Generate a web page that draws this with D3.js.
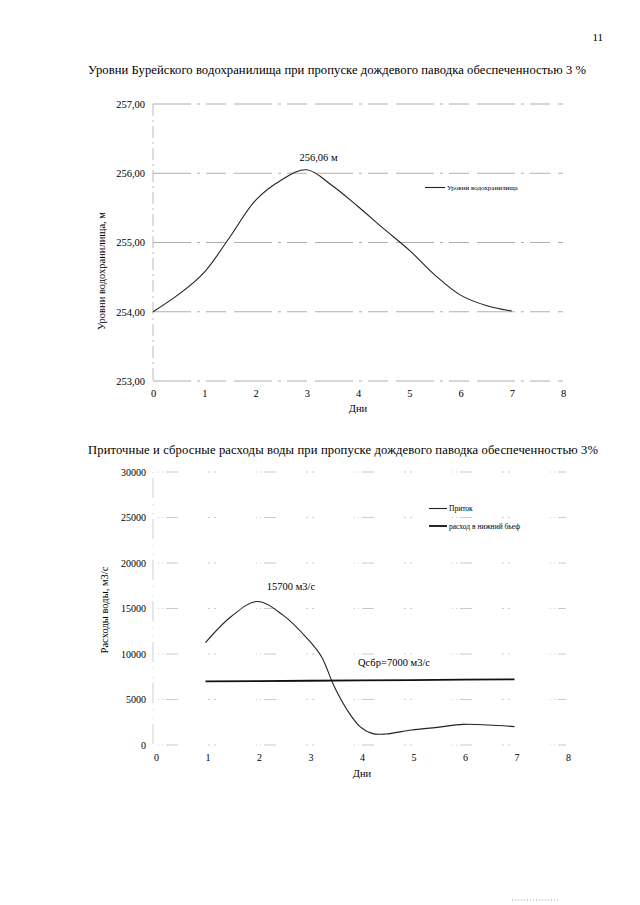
<!DOCTYPE html>
<html>
<head>
<meta charset="utf-8">
<script src="https://cdn.jsdelivr.net/npm/d3@7"></script>
<style>
  body { margin: 0; background: #fff; }
  svg, svg text { font-family: "Liberation Serif", "DejaVu Serif", serif; }
</style>
</head>
<body>
<div id="page"></div>
<script>
const width = 640;
const height = 905;

// Уровни водохранилища (дни, м)
const levelDays = [0, 0.5, 1, 1.5, 2, 2.5, 3, 3.5, 4, 4.5, 5, 5.5, 6, 6.5, 7];
const levelValues = [254.00, 254.25, 254.57, 255.08, 255.61, 255.90, 256.05, 255.82, 255.52, 255.20, 254.89, 254.53, 254.24, 254.09, 254.01];
const levelTicks = [253, 254, 255, 256, 257];

// Приток и сброс (дни, м3/с)
const inflowDays = [1, 1.5, 2, 2.5, 3, 3.25, 3.5, 3.75, 4, 4.25, 4.5, 5, 5.5, 6, 6.5, 7];
const inflowValues = [11260, 14120, 15770, 14300, 11550, 9720, 6420, 3850, 2020, 1250, 1210, 1650, 1940, 2270, 2200, 2020];
const outflowDays = [1, 2, 3, 4, 5, 6, 7];
const outflowValues = [7000, 7030, 7060, 7100, 7140, 7180, 7220];
const flowTicks = [0, 5000, 10000, 15000, 20000, 25000, 30000];
const dayTicks = [0, 1, 2, 3, 4, 5, 6, 7, 8];

const svg = d3.select('#page')
              .append('svg')
              .attr('width', width)
              .attr('height', height);

// номер страницы
svg.append('text')
   .attr('x', 603).attr('y', 41)
   .attr('text-anchor', 'end')
   .attr('font-size', 11)
   .text('11');

svg.append('text')
   .attr('x', 88).attr('y', 74)
   .attr('font-size', 12.6)
   .attr('textLength', 498)
   .text('Уровни Бурейского водохранилища при пропуске дождевого паводка обеспеченностью 3 %');

svg.append('text')
   .attr('x', 88).attr('y', 454)
   .attr('font-size', 12.6)
   .attr('textLength', 510)
   .text('Приточные и сбросные расходы воды при пропуске дождевого паводка обеспеченностью 3%');

function styleAxis(g, size) {
    g.select('.domain').remove();
    g.attr('font-family', null);
    g.selectAll('text')
     .style('font-family', '"Liberation Serif", serif')
     .attr('font-size', size)
     .attr('fill', '#000');
}

// ---------- график 1 ----------
const x1 = d3.scaleLinear().domain([0, 8]).range([153, 563]);
const y1 = d3.scaleLinear().domain([253, 257]).range([381, 104]);

const chart1 = svg.append('g').attr('id', 'levels');

chart1.append('g')
      .selectAll('line')
      .data(levelTicks)
      .join('line')
      .attr('x1', x1(0)).attr('x2', x1(8))
      .attr('y1', (d) => y1(d)).attr('y2', (d) => y1(d))
      .attr('stroke', '#9a9a9a')
      .attr('stroke-width', 0.8)
      .attr('stroke-dasharray', '38,6,3,6,20,8');

chart1.append('line')
      .attr('x1', x1(0)).attr('x2', x1(0))
      .attr('y1', y1(257)).attr('y2', y1(253))
      .attr('stroke', '#aaa')
      .attr('stroke-width', 0.8)
      .attr('stroke-dasharray', '12,4,2,4');

const ejeY1 = d3.axisLeft(y1).tickValues(levelTicks)
                .tickSize(0).tickPadding(8)
                .tickFormat((d) => d3.format('.2f')(d).replace('.', ','));
chart1.append('g')
      .attr('transform', `translate(${x1(0)},0)`)
      .call(ejeY1)
      .call((g) => styleAxis(g, 10.5));

const ejeX1 = d3.axisBottom(x1).tickValues(dayTicks).tickSize(0).tickPadding(9);
chart1.append('g')
      .attr('transform', `translate(0,${y1(253)})`)
      .call(ejeX1)
      .call((g) => styleAxis(g, 10.5));

const line1 = d3.line()
                .curve(d3.curveCatmullRom)
                .x((d, i) => x1(levelDays[i]))
                .y((d) => y1(d));

chart1.append('path')
      .attr('d', line1(levelValues))
      .attr('fill', 'none')
      .attr('stroke', '#222')
      .attr('stroke-width', 1.1);

chart1.append('text')
      .attr('x', x1(3.23)).attr('y', 161)
      .attr('text-anchor', 'middle')
      .attr('font-size', 10.5)
      .text('256,06 м');

chart1.append('line')
      .attr('x1', 425).attr('x2', 445)
      .attr('y1', 187.5).attr('y2', 187.5)
      .attr('stroke', '#222').attr('stroke-width', 1.1);
chart1.append('text')
      .attr('x', 447).attr('y', 190)
      .attr('font-size', 7)
      .text('Уровни водохранилища');

chart1.append('text')
      .attr('transform', `translate(105,${271}) rotate(-90)`)
      .attr('text-anchor', 'middle')
      .attr('font-size', 10.5)
      .text('Уровни водохранилища, м');

chart1.append('text')
      .attr('x', 358).attr('y', 412)
      .attr('text-anchor', 'middle')
      .attr('font-size', 10.5)
      .text('Дни');

// ---------- график 2 ----------
const x2 = d3.scaleLinear().domain([0, 8]).range([154, 566]);
const y2 = d3.scaleLinear().domain([0, 30000]).range([745, 472]);

const chart2 = svg.append('g').attr('id', 'flows');

chart2.append('g')
      .selectAll('line')
      .data(flowTicks)
      .join('line')
      .attr('x1', x2(0) + 4).attr('x2', x2(8))
      .attr('y1', (d) => y2(d)).attr('y2', (d) => y2(d))
      .attr('stroke', '#b5b5b5')
      .attr('stroke-width', 0.7)
      .attr('stroke-dasharray', '1,3,1,3,12,30,2,4,2,40');

chart2.append('line')
      .attr('x1', x2(0) - 1).attr('x2', x2(0) - 1)
      .attr('y1', y2(30000)).attr('y2', y2(0))
      .attr('stroke', '#bbb')
      .attr('stroke-width', 0.7)
      .attr('stroke-dasharray', '1,5,20,6,1,8');

const ejeY2 = d3.axisLeft(y2).tickValues(flowTicks)
                .tickSize(0).tickPadding(8)
                .tickFormat(d3.format('d'));
chart2.append('g')
      .attr('transform', `translate(${x2(0)},0)`)
      .call(ejeY2)
      .call((g) => styleAxis(g, 10));

const ejeX2 = d3.axisBottom(x2).tickValues(dayTicks).tickSize(0).tickPadding(9);
chart2.append('g')
      .attr('transform', `translate(2,${y2(0)})`)
      .call(ejeX2)
      .call((g) => styleAxis(g, 10));

const lineInflow = d3.line()
                     .curve(d3.curveCatmullRom)
                     .x((d, i) => x2(inflowDays[i]))
                     .y((d) => y2(d));
const lineOutflow = d3.line()
                      .x((d, i) => x2(outflowDays[i]))
                      .y((d) => y2(d));

chart2.append('path')
      .attr('d', lineInflow(inflowValues))
      .attr('fill', 'none')
      .attr('stroke', '#222')
      .attr('stroke-width', 1.1);

chart2.append('path')
      .attr('d', lineOutflow(outflowValues))
      .attr('fill', 'none')
      .attr('stroke', '#111')
      .attr('stroke-width', 1.8);

chart2.append('text')
      .attr('x', 291).attr('y', 590)
      .attr('text-anchor', 'middle')
      .attr('font-size', 10.5)
      .text('15700 м3/с');

chart2.append('text')
      .attr('x', 394).attr('y', 666)
      .attr('text-anchor', 'middle')
      .attr('font-size', 10.5)
      .text('Qсбр=7000 м3/с');

chart2.append('line')
      .attr('x1', 429).attr('x2', 447)
      .attr('y1', 508.5).attr('y2', 508.5)
      .attr('stroke', '#222').attr('stroke-width', 1.1);
chart2.append('text')
      .attr('x', 449).attr('y', 511)
      .attr('font-size', 7.5)
      .text('Приток');

chart2.append('line')
      .attr('x1', 429).attr('x2', 447)
      .attr('y1', 526).attr('y2', 526)
      .attr('stroke', '#111').attr('stroke-width', 1.8);
chart2.append('text')
      .attr('x', 449).attr('y', 529)
      .attr('font-size', 7.5)
      .text('расход в нижний бьеф');

chart2.append('text')
      .attr('transform', `translate(108,${610}) rotate(-90)`)
      .attr('text-anchor', 'middle')
      .attr('font-size', 10.5)
      .text('Расходы воды, м3/с');

chart2.append('text')
      .attr('x', 362).attr('y', 777)
      .attr('text-anchor', 'middle')
      .attr('font-size', 10.5)
      .text('Дни');

// след сканирования внизу страницы
svg.append('line')
   .attr('x1', 512).attr('x2', 560)
   .attr('y1', 900).attr('y2', 900)
   .attr('stroke', '#888')
   .attr('stroke-width', 0.8)
   .attr('stroke-dasharray', '1,2');
</script>
</body>
</html>
